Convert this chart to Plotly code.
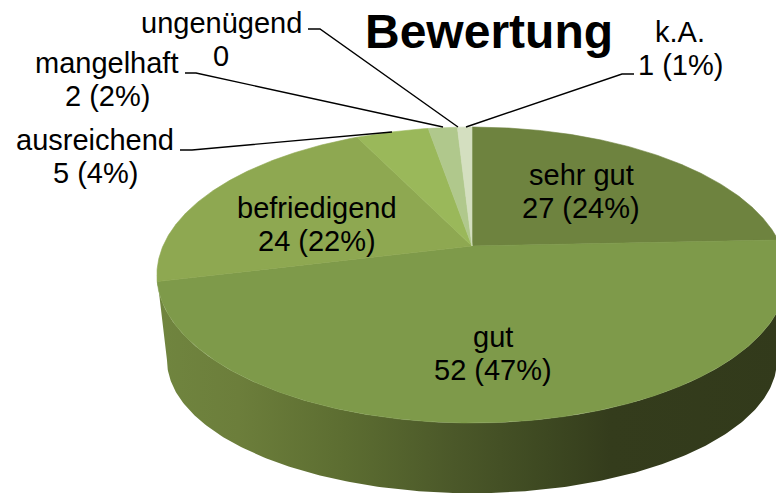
import numpy as np
import plotly.graph_objects as go

# Data
categories = ["sehr gut", "gut", "befriedigend", "ausreichend", "mangelhaft", "ungenügend", "k.A."]
counts = [27, 52, 24, 5, 2, 0, 1]
percents = [24, 47, 22, 4, 2, 0, 1]
slice_colors = ["#6E833F", "#7E9A4A", "#8EA851", "#9AB85A", "#B0C88C", "#C4D4A8", "#D4DFC0"]
title_text = "Bewertung"

# Label centres and leader lines (pixel space of the 776x493 page)
label_pos = {
    "sehr gut": (581, 191), "gut": (493, 353), "befriedigend": (317, 224),
    "ausreichend": (95, 156), "mangelhaft": (107, 79), "ungenügend": (221, 39), "k.A.": (680, 48),
}
LINE_GAP = 16.5
leaders = [
    ([308, 320, 458], [29, 29, 127]),
    ([185, 196, 443], [73, 73, 127]),
    ([180, 192, 392], [150, 150, 132]),
    ([634, 622, 466], [74, 74, 127]),
]

# Perspective projection of the pie disc
CX, CY = 472.0, 246.0
A, B, K = 142.3, 309.0, 0.196


def project(theta):
    u, v = np.sin(theta), np.cos(theta)
    w = 1 + K * v
    return CX + B * u / w, CY - A * v / w


def project_bottom(theta):
    x, y = project(theta)
    return CX + 0.968 * (x - CX), 360 + 0.9 * (y - 275)


fig = go.Figure()

# Side wall
th = np.radians(np.linspace(101.3, 258.7, 240))
xt, yt = project(th)
xb, yb = project_bottom(th[::-1])
fig.add_trace(go.Scatter(
    x=np.r_[xt, xb], y=np.r_[yt, yb], mode="lines", line=dict(width=0),
    fill="toself", hoverinfo="skip", showlegend=False,
    fillgradient=dict(type="horizontal", colorscale=[
        [0.0, "#70853F"], [0.13, "#6C7E3B"], [0.30, "#5C6D31"], [0.47, "#4B5829"],
        [0.62, "#3D4821"], [0.72, "#343C1C"], [1.0, "#323A1B"]]),
))

# Top faces
total = sum(counts)
start = 0.0
for name, n, col in zip(categories, counts, slice_colors):
    end = start + n / total * 2 * np.pi
    if n > 0:
        t = np.linspace(start, end, max(3, int(n * 8)))
        x, y = project(t)
        fig.add_trace(go.Scatter(
            x=np.r_[CX, x, CX], y=np.r_[CY, y, CY], mode="lines",
            line=dict(color=col, width=0.6), fill="toself", fillcolor=col,
            name=name, hoverinfo="name", showlegend=False,
        ))
    start = end

# Leader lines
for lx, ly in leaders:
    fig.add_trace(go.Scatter(x=lx, y=ly, mode="lines", line=dict(color="black", width=1.4),
                             hoverinfo="skip", showlegend=False))

# Labels
for name, n, p in zip(categories, counts, percents):
    lx, ly = label_pos[name]
    val = f"{n} ({p}%)" if n > 0 else f"{n}"
    for txt, dy in ((name, -LINE_GAP), (val, LINE_GAP)):
        fig.add_annotation(x=lx, y=ly + dy, text=txt, showarrow=False,
                           font=dict(family="Liberation Sans", size=29, color="black"))
fig.add_annotation(x=489, y=31, text=title_text, showarrow=False,
                   font=dict(family="Liberation Sans", size=48, color="black", weight="bold"))

fig.update_layout(
    width=776, height=493, autosize=False, margin=dict(l=0, r=0, t=0, b=0),
    paper_bgcolor="white", plot_bgcolor="white", showlegend=False,
    xaxis=dict(range=[0, 776], visible=False, fixedrange=True),
    yaxis=dict(range=[493, 0], visible=False, fixedrange=True),
)
fig.write_html("out.html", config=dict(displayModeBar=False),
               post_script="document.body.style.margin='0';document.body.style.overflow='hidden';")
